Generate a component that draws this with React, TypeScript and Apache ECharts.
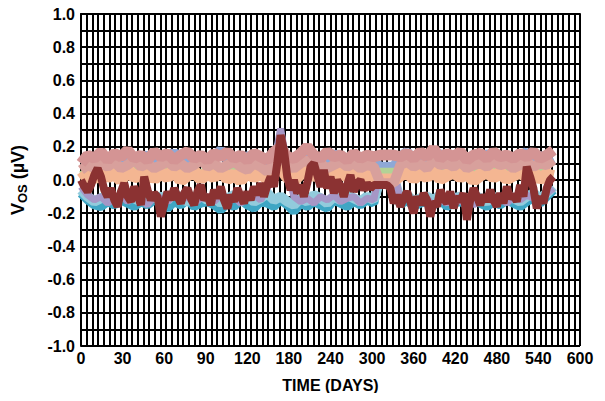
import React, { useEffect, useRef } from "react";
import * as echarts from "echarts";

// x-axis tick labels (as printed on the reference, equally spaced)
const X_LABELS = ["0", "30", "60", "90", "120", "180", "240", "300", "360", "420", "480", "540", "600"];
const X_TICK_STEP = 50; // axis units between printed labels
const GRID_COLUMNS = 88; // vertical grid divisions

// sampling step (axis units) of the series
const STEP_THIN = 8;
const STEP_RED = 4;

const teal = [-0.08,-0.12,-0.15,-0.16,-0.13,-0.15,-0.12,-0.14,-0.16,-0.13,-0.15,-0.12,-0.14,-0.17,-0.13,-0.15,-0.12,-0.16,-0.14,-0.13,-0.15,-0.18,-0.14,-0.16,-0.12,-0.15,-0.17,-0.13,-0.14,-0.16,-0.12,-0.15,-0.19,-0.14,-0.16,-0.13,-0.15,-0.17,-0.12,-0.14,-0.16,-0.13,-0.15,-0.12,-0.14,0.03,0.03,0.03,-0.15,-0.12,-0.16,-0.14,-0.13,-0.15,-0.12,-0.16,-0.14,-0.13,-0.15,-0.12,-0.14,-0.16,-0.13,-0.15,-0.12,-0.14,-0.16,-0.13,-0.11,-0.14,-0.1,-0.06];
const cyan = [-0.06,-0.1,-0.13,-0.11,-0.09,-0.12,-0.1,-0.08,-0.11,-0.13,-0.09,-0.11,-0.1,-0.12,-0.08,-0.11,-0.13,-0.1,-0.09,-0.12,-0.1,-0.14,-0.11,-0.09,-0.12,-0.1,-0.13,-0.11,-0.08,-0.12,-0.1,-0.13,-0.15,-0.11,-0.13,-0.09,-0.11,-0.14,-0.1,-0.12,-0.09,-0.11,-0.13,-0.1,-0.12,0.01,0.01,0.01,-0.12,-0.09,-0.13,-0.11,-0.1,-0.12,-0.09,-0.13,-0.11,-0.1,-0.12,-0.09,-0.11,-0.13,-0.1,-0.12,-0.09,-0.11,-0.13,-0.1,-0.08,-0.11,-0.08,-0.04];
const lavender = [-0.04,-0.09,-0.12,-0.1,-0.14,-0.11,-0.09,-0.13,-0.1,-0.12,-0.15,-0.1,-0.11,-0.13,-0.09,-0.12,-0.1,-0.14,-0.11,-0.1,-0.13,-0.09,-0.12,-0.1,-0.14,-0.11,-0.09,-0.12,-0.05,0.1,0.31,0.08,-0.1,-0.13,-0.11,-0.14,-0.1,-0.12,-0.09,-0.13,-0.11,-0.1,-0.14,-0.11,-0.12,0.07,0.07,0.07,-0.13,-0.1,-0.15,-0.12,-0.11,-0.16,-0.12,-0.14,-0.1,-0.13,-0.11,-0.15,-0.12,-0.1,-0.13,-0.11,-0.14,-0.1,-0.12,-0.09,-0.11,-0.13,-0.08,-0.05];
const periwinkle = [0.1,0.13,0.12,0.15,0.11,0.14,0.12,0.16,0.1,0.13,0.15,0.11,0.14,0.12,0.17,0.1,0.13,0.12,0.15,0.11,0.14,0.18,0.12,0.13,0.1,0.15,0.12,0.14,0.11,0.16,0.22,0.13,0.11,0.15,0.12,0.14,0.1,0.13,0.16,0.12,0.11,0.14,0.12,0.15,0.11,0.08,0.08,0.08,0.14,0.17,0.12,0.15,0.11,0.14,0.16,0.12,0.13,0.15,0.11,0.14,0.12,0.16,0.13,0.11,0.15,0.12,0.14,0.17,0.12,0.15,0.11,0.13];
const green = [0.03,0.05,0.04,0.06,0.02,0.05,0.07,0.04,0.06,0.03,0.05,0.07,0.04,0.08,0.05,0.06,0.03,0.05,0.04,0.06,0.03,0.05,0.04,0.06,0.03,0.05,0.04,0.02,0.05,0.07,0.1,0.04,0.03,0.05,0.04,0.06,0.03,0.05,0.04,0.06,0.03,0.05,0.07,0.04,0.05,0.05,0.05,0.05,0.04,0.06,0.05,0.07,0.04,0.08,0.05,0.06,0.04,0.07,0.05,0.06,0.04,0.05,0.07,0.04,0.06,0.05,0.04,0.06,0.03,0.05,0.04,0.03];
const peach = [0.0,0.03,0.01,0.05,0.02,0.04,0.0,0.06,0.02,0.03,0.05,0.01,0.04,0.02,0.06,0.0,0.03,0.05,0.01,0.04,0.02,0.06,0.01,0.03,0.0,0.05,0.02,0.04,0.01,0.06,0.08,0.02,0.0,0.04,0.06,0.02,0.05,0.01,0.03,0.06,0.02,0.04,0.0,0.03,0.01,0.0,0.0,0.0,0.03,0.05,0.01,0.04,0.02,0.06,0.01,0.03,0.05,0.02,0.04,0.0,0.03,0.05,0.02,0.04,0.01,0.03,0.05,0.02,0.04,0.01,0.03,0.02];
const pinkLow = [0.06,0.09,0.07,0.1,0.08,0.11,0.07,0.09,0.12,0.08,0.1,0.07,0.09,0.11,0.08,0.1,0.07,0.09,0.12,0.08,0.1,0.07,0.09,0.11,0.08,0.06,0.1,0.08,0.05,0.1,0.16,0.09,0.07,0.1,0.12,0.08,0.1,0.07,0.09,0.11,0.08,0.1,0.07,0.09,0.08,-0.02,-0.02,-0.02,0.09,0.11,0.08,0.1,0.07,0.12,0.09,0.1,0.08,0.11,0.07,0.09,0.1,0.08,0.11,0.09,0.1,0.07,0.09,0.11,0.08,0.1,0.09,0.12];
const pink = [0.1,0.15,0.13,0.17,0.12,0.16,0.14,0.18,0.13,0.15,0.12,0.17,0.14,0.16,0.12,0.15,0.17,0.13,0.15,0.12,0.16,0.14,0.17,0.13,0.15,0.12,0.16,0.14,0.12,0.17,0.2,0.14,0.13,0.16,0.2,0.15,0.13,0.17,0.14,0.15,0.12,0.16,0.13,0.15,0.14,0.15,0.15,0.15,0.14,0.16,0.13,0.17,0.14,0.19,0.13,0.16,0.14,0.17,0.12,0.15,0.16,0.13,0.17,0.14,0.15,0.13,0.16,0.14,0.17,0.13,0.15,0.18];
const darkRed = [
  0.0,-0.04,-0.07,-0.03,0.03,0.07,0.02,-0.06,-0.1,-0.05,
  -0.12,-0.16,-0.07,-0.02,-0.1,-0.13,-0.04,-0.09,-0.15,0.02,
  -0.06,-0.12,-0.08,-0.1,-0.22,-0.15,-0.07,-0.12,-0.05,-0.1,
  -0.14,-0.08,-0.05,-0.11,-0.15,-0.07,-0.03,-0.12,-0.09,-0.15,
  -0.06,-0.11,-0.04,-0.12,-0.17,-0.09,-0.13,-0.05,-0.1,-0.14,
  -0.07,-0.12,-0.04,-0.09,-0.02,-0.1,-0.03,0.02,-0.04,0.1,
  0.27,0.18,0.02,-0.06,0.0,-0.08,-0.03,-0.1,-0.02,0.08,
  0.1,0.03,-0.04,0.06,-0.05,0.02,-0.08,0.0,-0.04,-0.1,
  -0.03,0.03,-0.07,-0.02,0.0,-0.06,-0.02,-0.05,-0.03,-0.03,
  -0.03,-0.03,-0.03,-0.05,-0.14,-0.09,-0.16,-0.11,-0.07,-0.13,
  -0.2,-0.1,-0.15,-0.08,-0.12,-0.22,-0.13,-0.16,-0.06,-0.11,
  -0.14,-0.07,-0.17,-0.1,-0.13,-0.08,-0.24,-0.12,-0.05,-0.1,
  -0.15,-0.09,-0.13,-0.06,-0.12,-0.16,-0.08,-0.14,-0.04,-0.11,
  -0.09,-0.13,-0.03,-0.1,0.08,0.02,-0.05,-0.17,-0.1,-0.14,
  -0.05,0.0,0.02,
];

const SERIES = [
  { name: "teal", values: teal, step: STEP_THIN, color: "#3fa6c4", width: 9 },
  { name: "cyan", values: cyan, step: STEP_THIN, color: "#92cbdc", width: 10 },
  { name: "lavender", values: lavender, step: STEP_THIN, color: "#a697c6", width: 7 },
  { name: "periwinkle", values: periwinkle, step: STEP_THIN, color: "#8ea8d6", width: 10 },
  { name: "green", values: green, step: STEP_THIN, color: "#b2d296", width: 8 },
  { name: "peach", values: peach, step: STEP_THIN, color: "#f4b692", width: 13 },
  { name: "pinkLow", values: pinkLow, step: STEP_THIN, color: "#d8a09c", width: 10 },
  { name: "pink", values: pink, step: STEP_THIN, color: "#d49494", width: 11 },
  { name: "darkRed", values: darkRed, step: STEP_RED, color: "#8b3232", width: 8 },
];

const FONT = "'Liberation Sans', Arial, sans-serif";

export default function App() {
  const ref = useRef<HTMLDivElement>(null);
  useEffect(() => {
    if (!ref.current) return;
    const chart = echarts.init(ref.current, null, { renderer: "svg" });
    chart.setOption({
      animation: false,
      backgroundColor: "#ffffff",
      grid: { left: 76, right: 25, top: 14, bottom: 55 },
      xAxis: [
        {
          type: "value",
          min: 0,
          max: 600,
          interval: X_TICK_STEP,
          axisLine: { show: true, lineStyle: { color: "#000", width: 2 } },
          axisTick: { show: false },
          splitLine: { show: false },
          axisLabel: {
            margin: 4,
            color: "#000",
            fontFamily: FONT,
            fontWeight: "bold",
            fontSize: 16,
            formatter: (v: number) => X_LABELS[Math.round(v / X_TICK_STEP)] ?? "",
          },
          name: "TIME (DAYS)",
          nameLocation: "middle",
          nameGap: 31,
          nameTextStyle: { color: "#000", fontFamily: FONT, fontWeight: "bold", fontSize: 16 },
        },
        {
          type: "value",
          min: 0,
          max: GRID_COLUMNS,
          interval: 1,
          position: "top",
          axisLine: { show: true, lineStyle: { color: "#000", width: 2 } },
          axisTick: { show: false },
          axisLabel: { show: false },
          splitLine: { show: true, lineStyle: { color: "#000", width: 2 } },
        },
      ],
      yAxis: {
        type: "value",
        min: -1,
        max: 1,
        interval: 0.2,
        axisLine: { show: true, lineStyle: { color: "#000", width: 2 } },
        axisTick: { show: false },
        splitLine: { show: true, lineStyle: { color: "#000", width: 2 } },
        minorTick: { show: false, splitNumber: 2 },
        minorSplitLine: { show: true, lineStyle: { color: "#000", width: 2 } },
        axisLabel: {
          margin: 6,
          color: "#000",
          fontFamily: FONT,
          fontWeight: "bold",
          fontSize: 16,
          formatter: (v: number) => v.toFixed(1),
        },
        name: "{v|V}{s|OS}{v| (µV)}",
        nameLocation: "middle",
        nameGap: 52,
        nameRotate: 90,
        nameTextStyle: {
          color: "#000",
          rich: {
            v: { fontFamily: FONT, fontWeight: "bold", fontSize: 18, color: "#000", lineHeight: 22 },
            s: { fontFamily: FONT, fontWeight: "bold", fontSize: 13, color: "#000", lineHeight: 22, verticalAlign: "bottom", padding: [8, 0, 0, 0] },
          },
        },
      },
      series: SERIES.map((s) => ({
        name: s.name,
        type: "line",
        xAxisIndex: 0,
        showSymbol: false,
        symbol: "none",
        z: 3,
        lineStyle: { color: s.color, width: s.width },
        data: s.values.map((v, i) => [i * s.step, v]),
      })),
    });
    return () => chart.dispose();
  }, []);
  return <div ref={ref} style={{ width: 605, height: 401, margin: -8 }} />;
}
